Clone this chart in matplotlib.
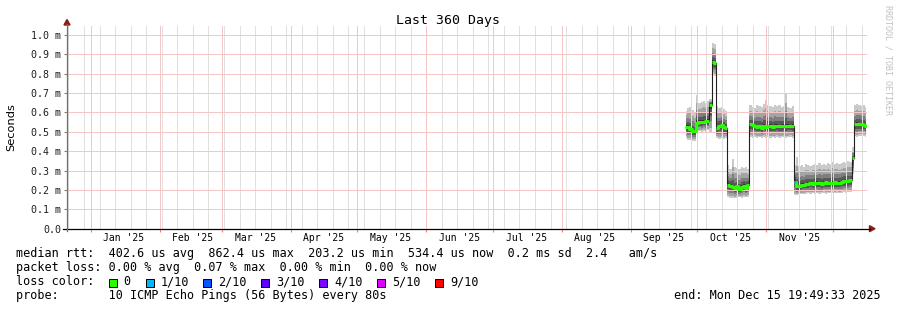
import numpy as np
import matplotlib.pyplot as plt
from matplotlib.patches import Polygon, Rectangle
from matplotlib.lines import Line2D

# one value per day, day 0 = 1 Jan 2025 (values in milliseconds)
first_day = 268
median_ms = [
    0.527, 0.525, 0.515, 0.505, 0.503,
    0.548, 0.551, 0.552, 0.553, 0.556, 0.556,
    0.640, 0.862, 0.858,
    0.520, 0.530, 0.535, 0.525, 0.520,
    0.228, 0.222, 0.215, 0.210, 0.218, 0.205, 0.215, 0.222, 0.212, 0.225,
    0.538, 0.535, 0.530, 0.525, 0.528, 0.522, 0.530, 0.525, 0.528, 0.530,
    0.525, 0.530, 0.532, 0.528, 0.530, 0.530, 0.528, 0.532, 0.530, 0.530,
    0.243, 0.222, 0.218, 0.225, 0.228, 0.230, 0.232, 0.235, 0.232, 0.235,
    0.238, 0.235, 0.232, 0.238, 0.240, 0.236, 0.235, 0.238, 0.240, 0.234,
    0.237, 0.240, 0.245, 0.248, 0.245, 0.250,
    0.363, 0.538, 0.540, 0.540, 0.538, 0.535, 0.528,
]
smoke_max = [
    0.610, 0.625, 0.630, 0.615, 0.600,
    0.690, 0.650, 0.655, 0.660, 0.650, 0.660,
    0.670, 0.960, 0.955,
    0.635, 0.625, 0.630, 0.620, 0.610,
    0.330, 0.310, 0.360, 0.320, 0.315, 0.310, 0.320, 0.315, 0.320, 0.310,
    0.640, 0.630, 0.625, 0.640, 0.635, 0.630, 0.645, 0.665, 0.640, 0.635,
    0.630, 0.640, 0.635, 0.640, 0.630, 0.635, 0.700, 0.630, 0.625, 0.635,
    0.330, 0.370, 0.325, 0.330, 0.320, 0.335, 0.330, 0.325, 0.330, 0.335,
    0.330, 0.340, 0.330, 0.335, 0.330, 0.340, 0.335, 0.345, 0.335, 0.340,
    0.335, 0.340, 0.345, 0.340, 0.350, 0.345,
    0.420, 0.640, 0.645, 0.640, 0.635, 0.640, 0.630,
]
smoke_min = [
    0.470, 0.460, 0.460, 0.455, 0.455,
    0.500, 0.505, 0.500, 0.505, 0.500, 0.510,
    0.500, 0.800, 0.790,
    0.470, 0.465, 0.470, 0.465, 0.470,
    0.165, 0.158, 0.160, 0.157, 0.160, 0.165, 0.160, 0.165, 0.162, 0.165,
    0.475, 0.470, 0.475, 0.470, 0.472, 0.468, 0.475, 0.470, 0.475, 0.470,
    0.472, 0.470, 0.475, 0.470, 0.472, 0.475, 0.470, 0.472, 0.475, 0.470,
    0.175, 0.172, 0.178, 0.180, 0.178, 0.180, 0.182, 0.180, 0.182, 0.180,
    0.183, 0.180, 0.182, 0.185, 0.180, 0.183, 0.182, 0.185, 0.183, 0.185,
    0.183, 0.185, 0.187, 0.185, 0.188, 0.190,
    0.280, 0.480, 0.475, 0.480, 0.478, 0.480, 0.475,
]
# days with packet loss (tenths lost)
loss_days = [317]
loss_tenths = [1]

loss_labels = ['0', '1/10', '2/10', '3/10', '4/10', '5/10', '9/10']
loss_levels = [0, 1, 2, 3, 4, 5, 9]
loss_colors = ['#26ff00', '#00b8ff', '#0059ff', '#5e00ff', '#7e00ff', '#dd00ff', '#ff0000']

month_labels = ["Jan '25", "Feb '25", "Mar '25", "Apr '25", "May '25", "Jun '25",
                "Jul '25", "Aug '25", "Sep '25", "Oct '25", "Nov '25"]

legend_rows = [
    "median rtt:  402.6 us avg  862.4 us max  203.2 us min  534.4 us now  0.2 ms sd  2.4   am/s",
    "packet loss: 0.00 % avg  0.07 % max  0.00 % min  0.00 % now",
]
probe_text = "probe:       10 ICMP Echo Pings (56 Bytes) every 80s"
end_text = "end: Mon Dec 15 19:49:33 2025"

MONO = 'DejaVu Sans Mono'
# dotted grid of the original, drawn as thin light lines
MGRID = '#f5c6c6'
GRID = '#e0e0e0'

W, H = 897, 310
fig = plt.figure(figsize=(W / 100, H / 100), dpi=100)


def fx(px):
    return px / W


def fy(py):
    return 1 - py / H


x0, x1, y0, y1 = 67, 866.8, 228.7, 26
ax = fig.add_axes([fx(x0), fy(y0), fx(x1) - fx(x0), fy(y1) - fy(y0)])
ax.set_xlim(-10.67, 349.33)
ax.set_ylim(0, 1.0465)
for s in ax.spines.values():
    s.set_visible(False)

days = first_day + np.arange(len(median_ms))
med = np.array(median_ms)
mx = np.array(smoke_max)
mn = np.array(smoke_min)

# smoke: nested bands, darker towards the median
up_frac = [1.0, 0.7, 0.45, 0.25, 0.08]
lo_frac = [1.0, 0.85, 0.6, 0.4, 0.15]
grays = ['#cacaca', '#a4a4a4', '#7e7e7e', '#585858', '#323232']
for uf, lf, g in zip(up_frac, lo_frac, grays):
    ax.fill_between(days, med - (med - mn) * lf, med + (mx - med) * uf,
                    step='mid', color=g, lw=0, zorder=1)

# median line: thin dark line, loss-coloured thick line broken at big jumps
ax.plot(days, med, drawstyle='steps-mid', color='#202020', lw=0.8, zorder=3)
day_colors = []
for d in days:
    lc = loss_colors[0]
    if d in loss_days:
        lv = loss_tenths[loss_days.index(d)]
        lc = loss_colors[loss_levels.index(lv)]
    day_colors.append(lc)

breaks = np.where(np.abs(np.diff(med)) > 0.05)[0] + 1
for run in np.split(np.arange(len(med)), breaks):
    ax.plot(np.r_[days[run] - 0.5, days[run][-1] + 0.5], np.r_[med[run], med[run][-1]],
            drawstyle='steps-post', color=loss_colors[0], lw=2.2, zorder=4,
            solid_capstyle='butt')
for i, d in enumerate(days):
    if day_colors[i] != loss_colors[0]:
        ax.hlines(med[i], d - 0.5, d + 0.5, colors=day_colors[i], lw=2.2, zorder=5)

# grid
month_starts = [(np.datetime64(f'2025-{m:02d}-01') - np.datetime64('2025-01-01')).astype(int)
                for m in range(1, 13)]
week_lines = np.arange(-10, 350, 7)  # Sundays
ax.set_xticks(month_starts)
ax.set_xticks(week_lines, minor=True)
ax.set_yticks(np.arange(0, 1.01, 0.1))
ax.set_yticklabels(['0.0'] + [f'{v:.1f} m' for v in np.arange(0.1, 1.01, 0.1)],
                   family=MONO, fontsize=7.2, color='#202020')
ax.tick_params(axis='x', which='major', length=2.5, color='#f08080', labelbottom=False)
ax.tick_params(axis='x', which='minor', length=0)
ax.tick_params(axis='y', length=2.2, color='#808080', pad=2)
ax.set_axisbelow(False)
ax.xaxis.grid(True, which='major', color=MGRID, lw=0.72)
ax.xaxis.grid(True, which='minor', color=GRID, lw=0.72)
ax.yaxis.grid(True, color=MGRID, lw=0.72)

for lab, ms in zip(month_labels, month_starts):
    ax.annotate(lab, xy=(ms + 15, 0), xycoords=('data', 'axes fraction'),
                xytext=(0, -9.2), textcoords='offset points',
                ha='center', va='baseline', family=MONO, fontsize=7)

# axes lines and arrows
fig.add_artist(Line2D([fx(63), fx(870)], [fy(228.7)] * 2, color='black', lw=0.9))
fig.add_artist(Line2D([fx(67)] * 2, [fy(231), fy(24)], color='#707070', lw=0.9))
fig.add_artist(Polygon([(fx(869.5), fy(225.7)), (fx(875), fy(228.7)), (fx(869.5), fy(231.7))],
                       closed=True, color='#8b1a1a', transform=fig.transFigure))
fig.add_artist(Polygon([(fx(64), fy(25)), (fx(67), fy(19.5)), (fx(70), fy(25))],
                       closed=True, color='#8b1a1a', transform=fig.transFigure))

# texts
fig.text(fx(448), fy(24), 'Last 360 Days', ha='center', va='baseline', family=MONO, fontsize=9.5)
fig.text(fx(11), fy(127.5), 'Seconds', rotation=90, ha='center', va='center',
         family='DejaVu Sans', fontsize=8.2)
fig.text(fx(888), fy(60), 'RRDTOOL / TOBI OETIKER', rotation=270, ha='center', va='center',
         family=MONO, fontsize=6, color='#c0c0c0')

fig.text(fx(16), fy(257.5), legend_rows[0], family=MONO, fontsize=8.5, va='baseline')
fig.text(fx(16), fy(271.3), legend_rows[1], family=MONO, fontsize=8.5, va='baseline')
fig.text(fx(16), fy(285.3), 'loss color:', family=MONO, fontsize=8.5, va='baseline')
box_x = [108.7, 145.7, 203.3, 261.3, 319.3, 377.3, 435.3]
for bx, lab, c in zip(box_x, loss_labels, loss_colors):
    fig.add_artist(Rectangle((fx(bx), fy(286.5)), 8 / W, 8 / H, facecolor=c,
                             edgecolor='black', lw=0.72, transform=fig.transFigure))
    fig.text(fx(bx + 14.6), fy(285.3), lab, family=MONO, fontsize=8.5, va='baseline')
fig.text(fx(16), fy(299.3), probe_text, family=MONO, fontsize=8.5, va='baseline')
fig.text(fx(881), fy(299.3), end_text, family=MONO, fontsize=8.5, va='baseline', ha='right')

fig.savefig('out.png', dpi=100)
